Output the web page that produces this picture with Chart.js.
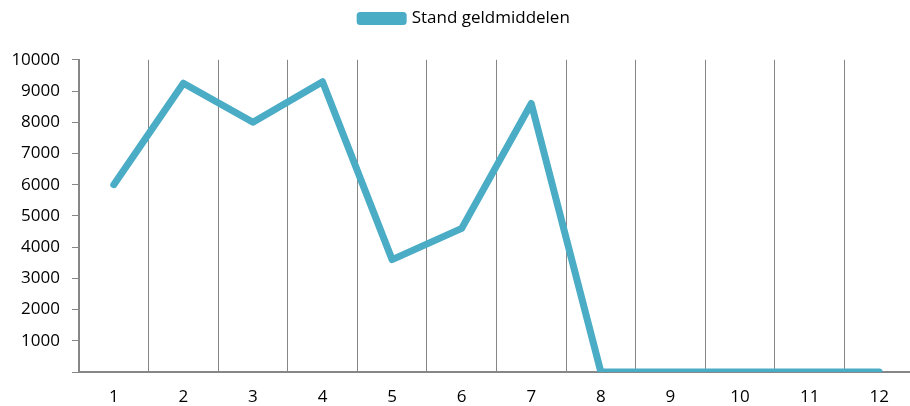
<!DOCTYPE html>
<html lang="nl">

<head>
    <meta charset="UTF-8">
    <title>Stand geldmiddelen</title>
    <style>
        body {
            margin: 0;
            padding: 0;
            background: #ffffff;
        }

        .wrap {
            width: 910px;
            height: 406px;
        }
    </style>
</head>

<body>
    <div class="wrap">
        <canvas id="cashChart" width="910" height="406"></canvas>
    </div>

    <script src="https://cdn.jsdelivr.net/npm/chart.js"></script>
    <script>
        // Months / periods
        const labels = ["1", "2", "3", "4", "5", "6", "7", "8", "9", "10", "11", "12"];

        // Stand geldmiddelen per periode
        const standGeldmiddelen = [6000, 9250, 8000, 9300, 3600, 4600, 8600, 0, 0, 0, 0, 0];

        // Y axis range
        const yMin = 0;
        const yMax = 10000;
        const yStep = 1000;

        const lineColor = "#4BACC6";
        const axisColor = "#868686";
        const fontFamily = "'Open Sans', 'Noto Sans', sans-serif";

        // small layout tweaks: legend a bit to the right, and the last
        // category running a few pixels past the canvas edge
        const layoutTweaks = {
            id: "layoutTweaks",
            afterLayout(chart) {
                if (chart.legend) {
                    chart.legend.left += 10;
                    chart.legend.right += 10;
                }
                const x = chart.scales.x;
                x.right = x.left + 835;
                x.width = 835;
                x.configure();
            }
        };

        const ctx = document.getElementById("cashChart").getContext("2d");
        new Chart(ctx, {
            type: "line",
            data: {
                labels: labels,
                datasets: [{
                    label: "Stand geldmiddelen",
                    data: standGeldmiddelen,
                    borderColor: lineColor,
                    backgroundColor: lineColor,
                    borderWidth: 7,
                    borderJoinStyle: "round",
                    borderCapStyle: "round",
                    pointRadius: 0,
                    pointHoverRadius: 0,
                    tension: 0,
                    fill: false
                }]
            },
            options: {
                responsive: false,
                animation: false,
                plugins: {
                    legend: {
                        display: true,
                        position: "top",
                        labels: {
                            boxWidth: 43,
                            boxHeight: 6,
                            padding: 10,
                            color: "#000000",
                            font: { family: fontFamily, size: 17 }
                        }
                    },
                    // empty title used as a spacer between legend and plot
                    title: {
                        display: true,
                        text: "",
                        weight: 500,
                        padding: 0,
                        font: { size: 19 }
                    },
                    tooltip: { enabled: false }
                },
                scales: {
                    x: {
                        offset: true,
                        grid: {
                            offset: true,
                            color: axisColor,
                            lineWidth: 1,
                            drawTicks: false
                        },
                        border: { display: true, color: axisColor, width: 2 },
                        ticks: {
                            color: "#000000",
                            padding: 15,
                            maxRotation: 0,
                            font: { family: fontFamily, size: 17 }
                        },
                        afterFit: (scale) => { scale.height = 34; }
                    },
                    y: {
                        min: yMin,
                        max: yMax,
                        grid: {
                            drawOnChartArea: false,
                            drawTicks: true,
                            tickLength: 7,
                            color: axisColor,
                            lineWidth: 1
                        },
                        border: { display: true, color: axisColor, width: 2 },
                        ticks: {
                            stepSize: yStep,
                            color: "#000000",
                            padding: 12,
                            font: { family: fontFamily, size: 17 },
                            callback: (v) => (v === 0 ? "" : String(v))
                        },
                        afterFit: (scale) => { scale.width = 79; }
                    }
                }
            },
            plugins: [layoutTweaks]
        });
    </script>
</body>

</html>
